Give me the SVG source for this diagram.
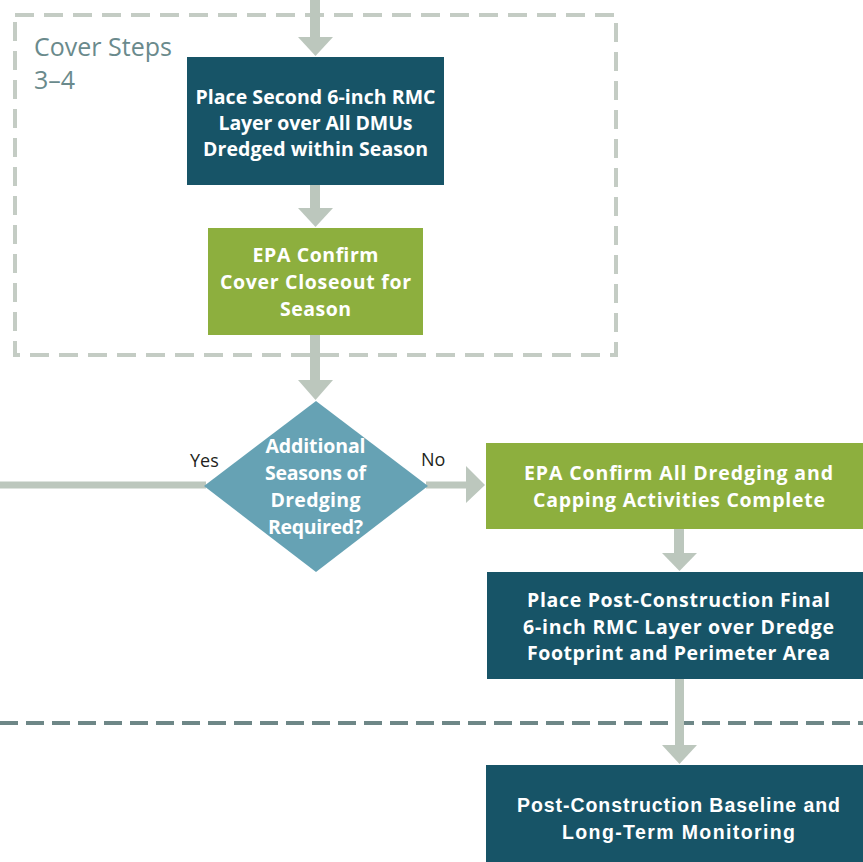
<svg xmlns="http://www.w3.org/2000/svg" width="863" height="862" viewBox="0 0 863 862">
<style>
.bt{font-family:"Open Sans","Liberation Sans",sans-serif;font-weight:bold;font-size:19.5px;fill:#fff;text-anchor:middle}
.ct{font-family:"Liberation Sans",sans-serif;font-weight:bold;font-size:19.5px;fill:#fff;text-anchor:middle}
.lbl{font-family:"Open Sans","Liberation Sans",sans-serif;font-size:18px;fill:#231f20}
.grp{font-family:"Open Sans","Liberation Sans",sans-serif;font-size:25px;fill:#6a8a8c}
.arr{fill:#bcc7bd}
.dark{fill:#175467}
.green{fill:#8daf3e}
</style>
<rect width="863" height="862" fill="#fff"/>
<g id="cover-group">
<rect x="15" y="15" width="601" height="340" fill="none" stroke="#c4ccc4" stroke-width="4" stroke-dasharray="19 10"/>
<text class="grp" x="34" y="56">Cover Steps</text>
<text class="grp" x="34" y="89">3–4</text>
</g>
<line id="phase-divider" x1="0" y1="723" x2="863" y2="723" stroke="#6e8787" stroke-width="4" stroke-dasharray="18 8"/>
<g id="connectors">
<rect class="arr" x="310" y="0" width="10" height="38"/>
<polygon class="arr" points="298,37 333,37 315.5,56"/>
<rect class="arr" x="310" y="185" width="10" height="24"/>
<polygon class="arr" points="298,208 333,208 315.5,227"/>
<rect class="arr" x="310" y="335" width="10" height="46"/>
<polygon class="arr" points="298,380 333,380 315.5,400"/>
<rect class="arr" x="0" y="481.5" width="206" height="7"/>
<rect class="arr" x="426" y="481.5" width="42" height="7"/>
<polygon class="arr" points="466,466 466,503 485,485"/>
<rect class="arr" x="674" y="528" width="10" height="26"/>
<polygon class="arr" points="662,553 697,553 679.5,571"/>
<rect class="arr" x="675" y="679" width="9" height="67"/>
<polygon class="arr" points="662,745 697,745 679.5,764"/>
</g>
<g id="place-second-layer">
<rect class="dark" x="187" y="57" width="257" height="128"/>
<text class="bt" x="315.5" y="104" textLength="240" lengthAdjust="spacing">Place Second 6-inch RMC</text>
<text class="bt" x="315.5" y="130" textLength="194" lengthAdjust="spacing">Layer over All DMUs</text>
<text class="bt" x="315.5" y="156" textLength="225" lengthAdjust="spacing">Dredged within Season</text>
</g>
<g id="epa-cover-closeout">
<rect class="green" x="208" y="228" width="215" height="107"/>
<text class="bt" x="315.5" y="262" textLength="126" lengthAdjust="spacing">EPA Confirm</text>
<text class="bt" x="315.5" y="289" textLength="191" lengthAdjust="spacing">Cover Closeout for</text>
<text class="bt" x="315.5" y="316" textLength="71" lengthAdjust="spacing">Season</text>
</g>
<g id="decision">
<polygon points="316,401 428,486 316,572 204,486" fill="#66a2b4"/>
<text class="bt" x="315.5" y="453" textLength="100" lengthAdjust="spacing">Additional</text>
<text class="bt" x="315.5" y="480" textLength="101" lengthAdjust="spacing">Seasons of</text>
<text class="bt" x="315.5" y="507" textLength="90" lengthAdjust="spacing">Dredging</text>
<text class="bt" x="315.5" y="534" textLength="95" lengthAdjust="spacing">Required?</text>
<text class="lbl" x="190" y="467">Yes</text>
<text class="lbl" x="421" y="466">No</text>
</g>
<g id="epa-all-complete">
<rect class="green" x="486" y="443" width="377" height="86"/>
<text class="bt" x="678.5" y="480" textLength="309" lengthAdjust="spacing">EPA Confirm All Dredging and</text>
<text class="bt" x="679" y="507" textLength="292" lengthAdjust="spacing">Capping Activities Complete</text>
</g>
<g id="final-layer">
<rect class="dark" x="487" y="572" width="376" height="107"/>
<text class="bt" x="678.5" y="607" textLength="303" lengthAdjust="spacing">Place Post-Construction Final</text>
<text class="bt" x="678.5" y="634" textLength="311" lengthAdjust="spacing">6-inch RMC Layer over Dredge</text>
<text class="bt" x="678.5" y="660" textLength="303" lengthAdjust="spacing">Footprint and Perimeter Area</text>
</g>
<g id="monitoring">
<rect class="dark" x="486" y="765" width="377" height="97"/>
<text class="ct" x="678.5" y="812" textLength="323" lengthAdjust="spacing">Post-Construction Baseline and</text>
<text class="ct" x="678.5" y="839" textLength="233" lengthAdjust="spacing">Long-Term Monitoring</text>
</g>
</svg>
